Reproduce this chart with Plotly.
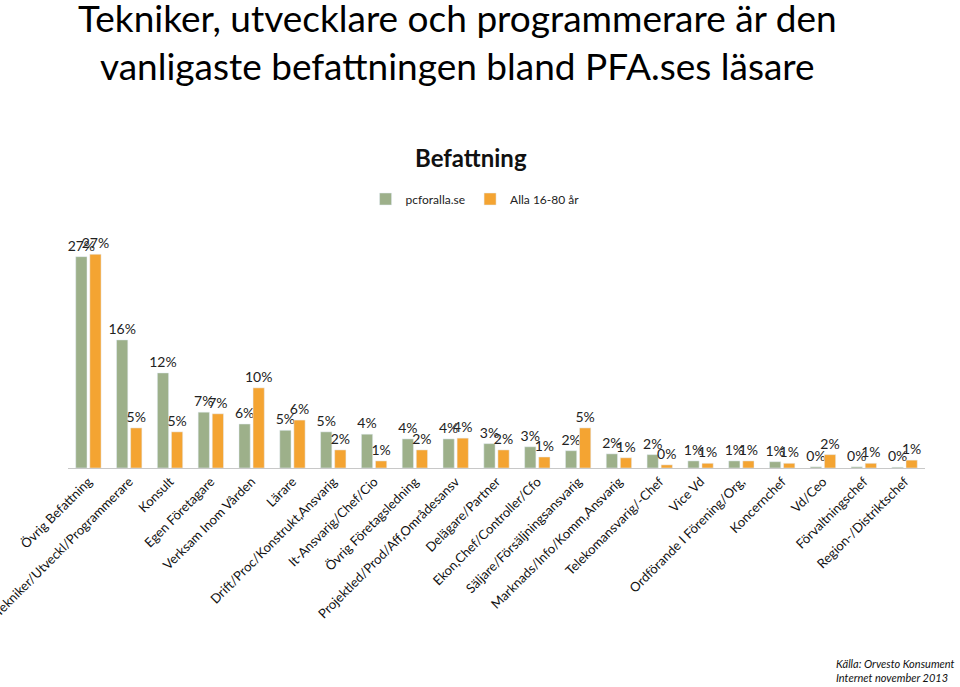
import plotly.graph_objects as go

categories = [
    "Övrig Befattning", "Tekniker/Utveckl/Programmerare", "Konsult", "Egen Företagare",
    "Verksam Inom Vården", "Lärare", "Drift/Proc/Konstrukt,Ansvarig", "It-Ansvarig/Chef/Cio",
    "Övrig Företagsledning", "Projektled/Prod/Aff,Områdesansv", "Delägare/Partner",
    "Ekon,Chef/Controller/Cfo", "Säljare/Försäljningsansvarig", "Marknads/Info/Komm,Ansvarig",
    "Telekomansvarig/-Chef", "Vice Vd", "Ordförande I Förening/Org,", "Koncernchef",
    "Vd/Ceo", "Förvaltningschef", "Region-/Distriktschef",
]
pcforalla = [26.9, 16.3, 12.1, 7.1, 5.6, 4.8, 4.6, 4.3, 3.7, 3.7, 3.1, 2.7, 2.2, 1.8, 1.7,
             0.9, 0.9, 0.8, 0.15, 0.15, 0.1]
alla = [27.2, 5.1, 4.6, 6.9, 10.2, 6.1, 2.3, 0.9, 2.3, 3.8, 2.3, 1.4, 5.1, 1.3, 0.4,
        0.6, 0.9, 0.6, 1.7, 0.6, 1.0]

green = "#9DB08A"
orange = "#F4A432"
font_family = "Lato, 'Open Sans', sans-serif"

PLOT_TOP = 248
PLOT_BOTTOM = 468
PLOT_H = PLOT_BOTTOM - PLOT_TOP


def py(pixel_y):
    return (PLOT_BOTTOM - pixel_y) / PLOT_H


fig = go.Figure()
fig.add_trace(go.Bar(name="pcforalla.se", x=categories, y=pcforalla, marker_color=green,
                     texttemplate="%{y:.0f}%", textposition="outside",
                     textfont=dict(size=14, color="#222")))
fig.add_trace(go.Bar(name="Alla 16-80 år", x=categories, y=alla, marker_color=orange,
                     texttemplate="%{y:.0f}%", textposition="outside",
                     textfont=dict(size=14, color="#222")))

fig.update_traces(cliponaxis=False, constraintext="none")

fig.update_layout(
    width=960, height=687,
    margin=dict(l=68, r=35, t=PLOT_TOP, b=687 - PLOT_BOTTOM, autoexpand=False),
    paper_bgcolor="white", plot_bgcolor="white",
    barmode="group", bargap=0.31, bargroupgap=0.2,
    font=dict(family=font_family, color="#111"),
    showlegend=True,
    legend=dict(orientation="h", x=0.475, xanchor="center", y=py(199), yanchor="middle",
                font=dict(size=12, color="#222"), itemwidth=30),
    xaxis=dict(tickangle=-45, showline=True, linecolor="#c8c8c8", linewidth=1,
               tickfont=dict(size=13, color="#111"), showgrid=False, ticks="",
               automargin=False),
    yaxis=dict(range=[0, 28], visible=False, showgrid=False, automargin=False),
    annotations=[
        dict(text="Tekniker, utvecklare och programmerare är den<br>vanligaste befattningen bland PFA.ses läsare",
             xref="paper", yref="paper", x=0.455, y=py(41), xanchor="center",
             yanchor="middle", showarrow=False, font=dict(size=37, color="#000")),
        dict(text="<b>Befattning</b>", xref="paper", yref="paper", x=0.47, y=py(157),
             xanchor="center", yanchor="middle", showarrow=False, font=dict(size=24, color="#111")),
        dict(text="<i>Källa: Orvesto Konsument<br>Internet november 2013</i>", xref="paper",
             yref="paper", x=(957 - 68) / (925 - 68), y=py(686), xanchor="right", yanchor="bottom",
             align="left", showarrow=False, font=dict(size=11, color="#111")),
    ],
)

fig.write_html("out.html", config={"displayModeBar": False},
               post_script="document.body.style.margin='0';")
